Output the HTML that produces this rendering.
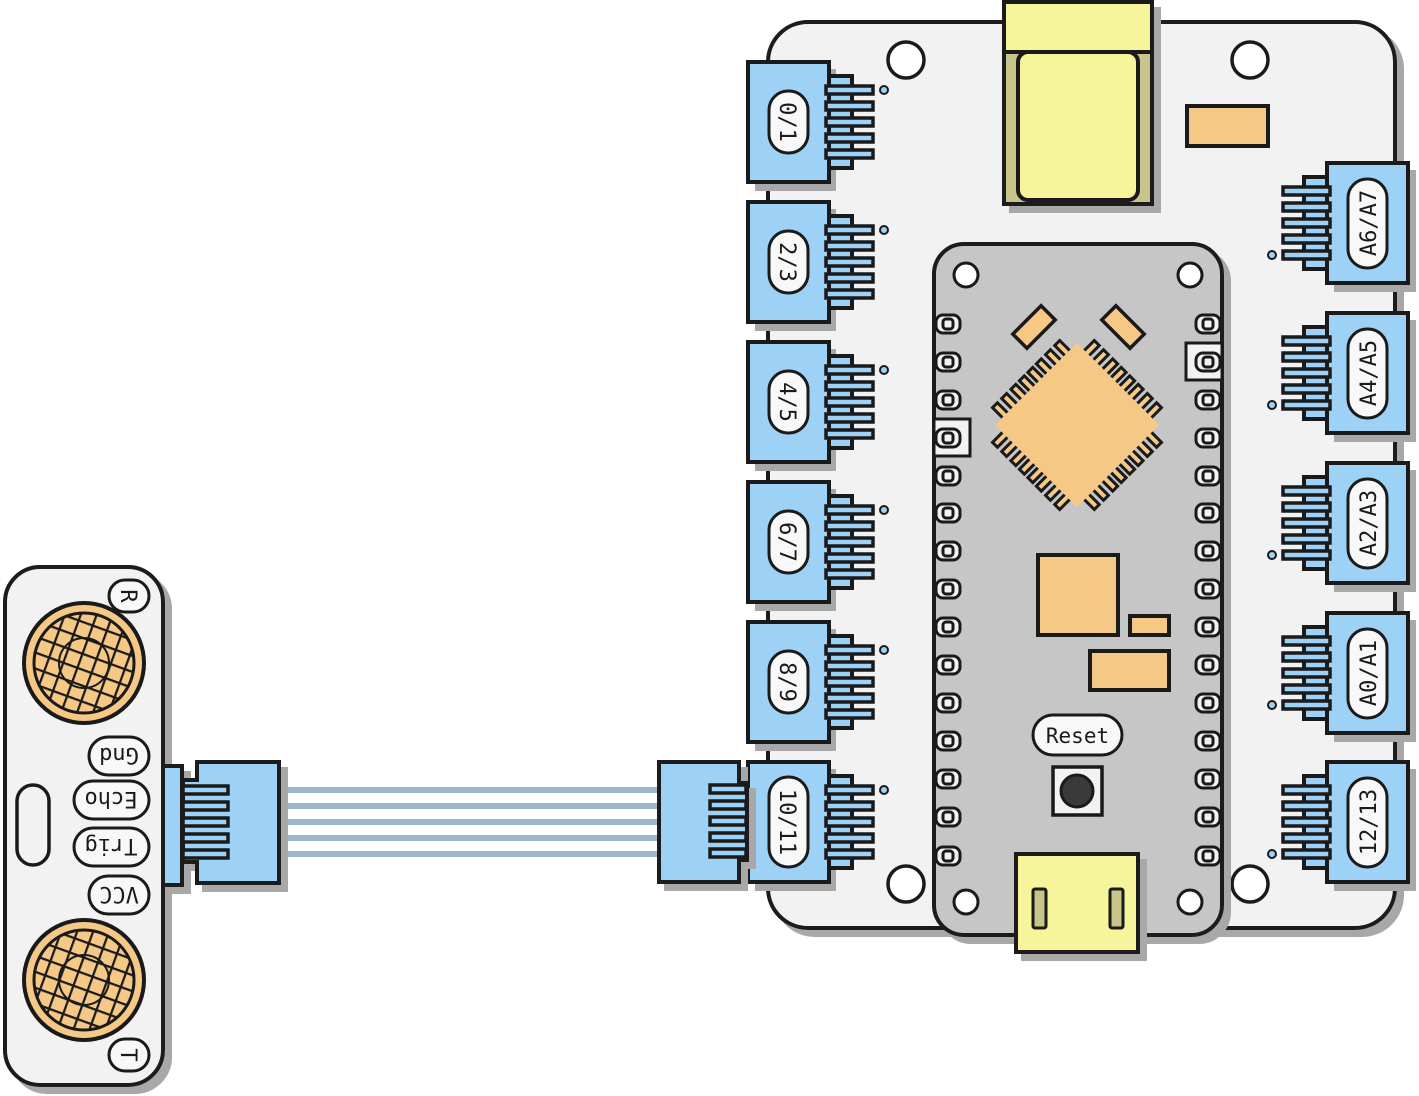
<!DOCTYPE html>
<html><head><meta charset="utf-8"><style>
html,body{margin:0;padding:0;background:#fff;}
svg{display:block}
text{font-family:"DejaVu Sans Mono","Liberation Mono",monospace;fill:#1a1a1a}
</style></head><body>
<svg width="1419" height="1096" viewBox="0 0 1419 1096" xmlns="http://www.w3.org/2000/svg">
<defs>
<filter id="sh" x="-10%" y="-10%" width="130%" height="130%"><feDropShadow dx="7" dy="7" stdDeviation="0" flood-color="#a8a8a8" flood-opacity="1"/></filter>
<pattern id="grid" width="15" height="15" patternUnits="userSpaceOnUse" patternTransform="rotate(20)">
<rect width="15" height="15" fill="#f5c985"/>
<path d="M0 0H15M0 0V15" stroke="#1a1a1a" stroke-width="4.5"/>
</pattern>
<g id="conn">
<rect x="-40" y="-60" width="81" height="120" fill="#9dd1f5" stroke="#1a1a1a" stroke-width="4"/>
<rect x="41" y="-46" width="23" height="92" fill="#9dd1f5" stroke="#1a1a1a" stroke-width="4"/>
<g fill="#9dd1f5" stroke="#1a1a1a" stroke-width="3.5">
<rect x="38" y="-36" width="47" height="8"/><rect x="38" y="-20" width="47" height="8"/><rect x="38" y="-4" width="47" height="8"/><rect x="38" y="12" width="47" height="8"/><rect x="38" y="28" width="47" height="8"/>
</g>
<circle cx="96" cy="-32" r="4" fill="#9dd1f5" stroke="#1a1a1a" stroke-width="2"/>
</g>
<g id="pad">
<rect x="-12" y="-9" width="24" height="18" rx="7" fill="#f2f2f2" stroke="#1a1a1a" stroke-width="3"/>
<rect x="-5" y="-5" width="10" height="10" rx="3" fill="none" stroke="#1a1a1a" stroke-width="3"/>
</g>
<g id="cpin"><rect x="-3.5" y="-72" width="7" height="20" fill="#f5c985" stroke="#1a1a1a" stroke-width="3"/></g>
<g id="side">
<use href="#cpin" x="-44"/><use href="#cpin" x="-31"/><use href="#cpin" x="-18"/><use href="#cpin" x="-6"/><use href="#cpin" x="6"/><use href="#cpin" x="18"/><use href="#cpin" x="31"/><use href="#cpin" x="44"/>
</g>
</defs>

<!-- main board -->
<rect x="768" y="22" width="627" height="906" rx="40" fill="#f2f2f2" stroke="#1a1a1a" stroke-width="4" filter="url(#sh)"/>
<g fill="#fff" stroke="#1a1a1a" stroke-width="3.5">
<circle cx="906" cy="60" r="18"/><circle cx="1250" cy="60" r="18"/><circle cx="906" cy="884" r="18"/><circle cx="1250" cy="884" r="18"/>
</g>
<!-- top USB -->
<rect x="1004" y="2" width="148" height="202" fill="#c8c48a" stroke="#1a1a1a" stroke-width="4" filter="url(#sh)"/>
<rect x="1018" y="52" width="120" height="148" rx="10" fill="#f6f59c" stroke="#1a1a1a" stroke-width="4"/>
<rect x="1004" y="2" width="148" height="50" fill="#f6f59c" stroke="#1a1a1a" stroke-width="4"/>
<rect x="1187" y="106" width="81" height="40" fill="#f5c985" stroke="#1a1a1a" stroke-width="4"/>

<!-- nano -->
<rect x="934" y="244" width="288" height="691" rx="30" fill="#c6c6c6" stroke="#1a1a1a" stroke-width="4" filter="url(#sh)"/>
<g fill="#fff" stroke="#1a1a1a" stroke-width="3">
<circle cx="966" cy="275" r="12"/><circle cx="1190" cy="275" r="12"/><circle cx="966" cy="902" r="12"/><circle cx="1190" cy="902" r="12"/>
</g>
<rect x="934" y="419" width="36" height="37" fill="#f2f2f2" stroke="#1a1a1a" stroke-width="3"/>
<rect x="1186" y="343" width="36" height="37" fill="#f2f2f2" stroke="#1a1a1a" stroke-width="3"/>
<g>
<use href="#pad" x="948" y="324"/><use href="#pad" x="948" y="362"/><use href="#pad" x="948" y="400"/><use href="#pad" x="948" y="438"/><use href="#pad" x="948" y="476"/><use href="#pad" x="948" y="513"/><use href="#pad" x="948" y="551"/><use href="#pad" x="948" y="589"/><use href="#pad" x="948" y="627"/><use href="#pad" x="948" y="665"/><use href="#pad" x="948" y="703"/><use href="#pad" x="948" y="741"/><use href="#pad" x="948" y="779"/><use href="#pad" x="948" y="817"/><use href="#pad" x="948" y="856"/>
<use href="#pad" x="1208" y="324"/><use href="#pad" x="1208" y="362"/><use href="#pad" x="1208" y="400"/><use href="#pad" x="1208" y="438"/><use href="#pad" x="1208" y="476"/><use href="#pad" x="1208" y="513"/><use href="#pad" x="1208" y="551"/><use href="#pad" x="1208" y="589"/><use href="#pad" x="1208" y="627"/><use href="#pad" x="1208" y="665"/><use href="#pad" x="1208" y="703"/><use href="#pad" x="1208" y="741"/><use href="#pad" x="1208" y="779"/><use href="#pad" x="1208" y="817"/><use href="#pad" x="1208" y="856"/>
</g>
<!-- chip -->
<g transform="translate(1077,425) rotate(45)">
<use href="#side"/><use href="#side" transform="rotate(90)"/><use href="#side" transform="rotate(180)"/><use href="#side" transform="rotate(270)"/>
<rect x="-58" y="-58" width="116" height="116" fill="#f5c985"/>
</g>
<rect x="-20" y="-10" width="40" height="20" transform="translate(1034,327) rotate(-45)" fill="#f5c985" stroke="#1a1a1a" stroke-width="3.5"/>
<rect x="-20" y="-10" width="40" height="20" transform="translate(1123,327) rotate(45)" fill="#f5c985" stroke="#1a1a1a" stroke-width="3.5"/>
<g fill="#f5c985" stroke="#1a1a1a" stroke-width="4">
<rect x="1038" y="555" width="80" height="80"/>
<rect x="1130" y="616" width="39" height="19"/>
<rect x="1090" y="651" width="79" height="39"/>
</g>
<rect x="1033" y="715" width="89" height="40" rx="20" fill="#f8f8f8" stroke="#1a1a1a" stroke-width="3"/>
<text x="1077.5" y="743" font-size="21" text-anchor="middle">Reset</text>
<rect x="1053" y="767" width="49" height="48" fill="#f2f2f2" stroke="#1a1a1a" stroke-width="3.5"/>
<circle cx="1077" cy="791" r="16" fill="#3a3a3a" stroke="#1a1a1a" stroke-width="3"/>
<rect x="1016" y="854" width="122" height="98" fill="#f6f59c" stroke="#1a1a1a" stroke-width="4" filter="url(#sh)"/>
<rect x="1033" y="889" width="13" height="39" rx="2" fill="#c8c48a" stroke="#1a1a1a" stroke-width="3"/>
<rect x="1110" y="889" width="13" height="39" rx="2" fill="#c8c48a" stroke="#1a1a1a" stroke-width="3"/>

<!-- connector shadows -->
<g fill="#a8a8a8">
<rect x="755" y="69" width="81" height="122"/><rect x="755" y="209" width="81" height="122"/><rect x="755" y="349" width="81" height="122"/><rect x="755" y="489" width="81" height="122"/><rect x="755" y="629" width="81" height="122"/><rect x="755" y="769" width="81" height="122"/>
<rect x="1334" y="170" width="82" height="122"/><rect x="1334" y="320" width="82" height="122"/><rect x="1334" y="470" width="82" height="122"/><rect x="1334" y="620" width="82" height="122"/><rect x="1334" y="769" width="82" height="122"/>
</g>
<!-- left connectors -->
<use href="#conn" x="788" y="122"/><use href="#conn" x="788" y="262"/><use href="#conn" x="788" y="402"/><use href="#conn" x="788" y="542"/><use href="#conn" x="788" y="682"/><use href="#conn" x="788" y="822"/>
<g fill="#f8f8f8" stroke="#1a1a1a" stroke-width="3">
<rect x="769" y="91" width="39" height="62" rx="19"/>
<rect x="769" y="231" width="39" height="62" rx="19"/>
<rect x="769" y="371" width="39" height="62" rx="19"/>
<rect x="769" y="511" width="39" height="62" rx="19"/>
<rect x="769" y="651" width="39" height="62" rx="19"/>
<rect x="769" y="777" width="39" height="90" rx="19"/>
</g>
<g font-size="22" text-anchor="middle">
<text transform="translate(780,122) rotate(90)">0/1</text>
<text transform="translate(780,262) rotate(90)">2/3</text>
<text transform="translate(780,402) rotate(90)">4/5</text>
<text transform="translate(780,542) rotate(90)">6/7</text>
<text transform="translate(780,682) rotate(90)">8/9</text>
<text transform="translate(780,822) rotate(90)">10/11</text>
</g>
<!-- right connectors -->
<use href="#conn" transform="translate(1368,223) rotate(180)"/>
<use href="#conn" transform="translate(1368,373) rotate(180)"/>
<use href="#conn" transform="translate(1368,523) rotate(180)"/>
<use href="#conn" transform="translate(1368,673) rotate(180)"/>
<use href="#conn" transform="translate(1368,822) rotate(180)"/>
<g fill="#f8f8f8" stroke="#1a1a1a" stroke-width="3">
<rect x="1348" y="179" width="39" height="89" rx="19"/>
<rect x="1348" y="329" width="39" height="89" rx="19"/>
<rect x="1348" y="479" width="39" height="89" rx="19"/>
<rect x="1348" y="629" width="39" height="89" rx="19"/>
<rect x="1348" y="778" width="39" height="89" rx="19"/>
</g>
<g font-size="22" text-anchor="middle">
<text transform="translate(1376,223) rotate(-90)">A6/A7</text>
<text transform="translate(1376,373) rotate(-90)">A4/A5</text>
<text transform="translate(1376,523) rotate(-90)">A2/A3</text>
<text transform="translate(1376,673) rotate(-90)">A0/A1</text>
<text transform="translate(1376,822) rotate(-90)">12/13</text>
</g>

<!-- wires -->
<g stroke="#9db6cb" stroke-width="6">
<line x1="279" y1="790" x2="660" y2="790"/><line x1="279" y1="806" x2="660" y2="806"/><line x1="279" y1="822" x2="660" y2="822"/><line x1="279" y1="838" x2="660" y2="838"/><line x1="279" y1="854" x2="660" y2="854"/>
</g>
<!-- board-side plug -->
<path d="M659 762 H739 V783 H747 V860 H739 V882 H659 Z" fill="#9dd1f5" stroke="#1a1a1a" stroke-width="4" filter="url(#sh)"/>
<g fill="#9dd1f5" stroke="#1a1a1a" stroke-width="3.5">
<rect x="710" y="785" width="36" height="8"/><rect x="710" y="801" width="36" height="8"/><rect x="710" y="817" width="36" height="8"/><rect x="710" y="833" width="36" height="8"/><rect x="710" y="849" width="36" height="8"/>
</g>

<!-- sensor -->
<rect x="5" y="567" width="158" height="518" rx="35" fill="#f2f2f2" stroke="#1a1a1a" stroke-width="4" filter="url(#sh)"/>
<circle cx="84" cy="663" r="60" fill="#f5c985" stroke="#1a1a1a" stroke-width="4"/>
<circle cx="84" cy="663" r="50" fill="url(#grid)" stroke="#1a1a1a" stroke-width="3"/>
<circle cx="84" cy="663" r="25" fill="none" stroke="#1a1a1a" stroke-width="2"/>
<circle cx="84" cy="980" r="60" fill="#f5c985" stroke="#1a1a1a" stroke-width="4"/>
<circle cx="84" cy="980" r="50" fill="url(#grid)" stroke="#1a1a1a" stroke-width="3"/>
<circle cx="84" cy="980" r="25" fill="none" stroke="#1a1a1a" stroke-width="2"/>
<rect x="17" y="785" width="32" height="80" rx="16" fill="#f2f2f2" stroke="#1a1a1a" stroke-width="3.5"/>
<g fill="#f8f8f8" stroke="#1a1a1a" stroke-width="3">
<rect x="109" y="580" width="40" height="32" rx="16"/>
<rect x="89" y="737" width="60" height="38" rx="19"/>
<rect x="74" y="781" width="75" height="38" rx="19"/>
<rect x="74" y="828" width="75" height="38" rx="19"/>
<rect x="89" y="876" width="60" height="38" rx="19"/>
<rect x="109" y="1039" width="40" height="32" rx="16"/>
</g>
<g font-size="22" text-anchor="middle">
<text transform="translate(121,596) rotate(90)">R</text>
<text transform="translate(119,756) rotate(180)" dy="8">Gnd</text>
<text transform="translate(111,800) rotate(180)" dy="8">Echo</text>
<text transform="translate(111,847) rotate(180)" dy="8">Trig</text>
<text transform="translate(119,895) rotate(180)" dy="8">VCC</text>
<text transform="translate(121,1055) rotate(90)">T</text>
</g>
<!-- sensor-side connector -->
<g filter="url(#sh)">
<rect x="163" y="766" width="19" height="119" fill="#9dd1f5" stroke="#1a1a1a" stroke-width="4"/>
<path d="M197 762 H279 V883 H197 V862 H183 V780 H197 Z" fill="#9dd1f5" stroke="#1a1a1a" stroke-width="4"/>
</g>
<g fill="#9dd1f5" stroke="#1a1a1a" stroke-width="3.5">
<rect x="183" y="786" width="45" height="8"/><rect x="183" y="802" width="45" height="8"/><rect x="183" y="818" width="45" height="8"/><rect x="183" y="834" width="45" height="8"/><rect x="183" y="850" width="45" height="8"/>
</g>
</svg>
</body></html>
